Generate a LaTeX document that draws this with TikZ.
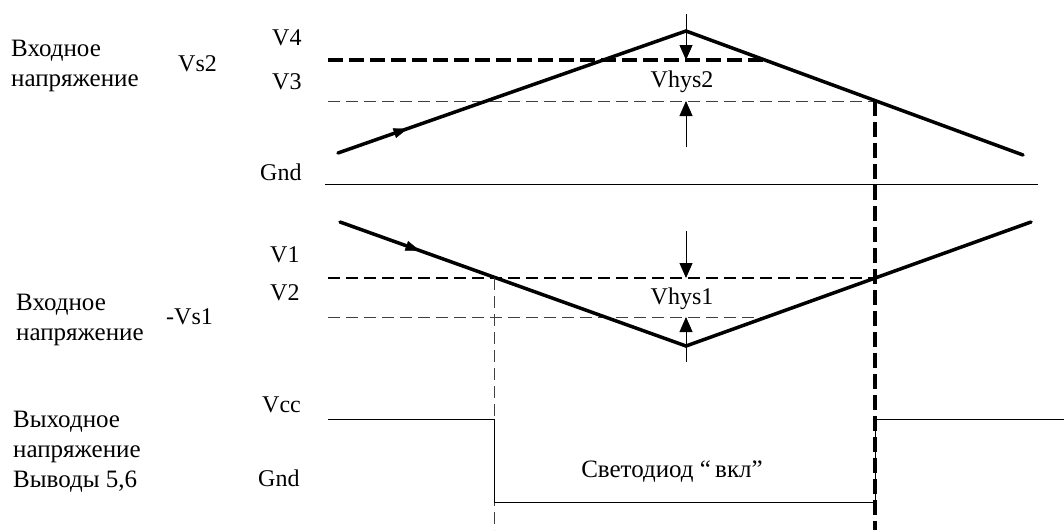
\documentclass[tikz,border=0pt]{standalone}
\usepackage{fontspec}
\setmainfont{Liberation Serif}
\usetikzlibrary{arrows.meta,decorations.markings}

\tikzset{
  wave/.style={line width=3.5pt, line cap=round},
  thickdash/.style={line width=3.5pt, dash pattern=on 15pt off 6pt},
  middash/.style={line width=1.8pt, dash pattern=on 12pt off 6pt},
  thindash/.style={line width=1pt, black!75, dash pattern=on 12pt off 6pt},
  rail/.style={line width=1pt},
  hysarrow/.style={line width=0.9pt, -{Triangle[length=15pt,width=13pt]}},
  flow/.style={postaction={decorate}, decoration={markings,
    mark=at position #1 with {\arrow{Triangle[length=14pt,width=10pt]}}}},
  lbl/.style={anchor=base west, inner sep=0pt},
  txt/.style={anchor=base west, inner sep=0pt, align=left,
    font=\fontsize{25}{30}\selectfont}
}

\begin{document}
\begin{tikzpicture}[x=1pt, y=-1pt, font=\fontsize{24}{30}\selectfont]
\useasboundingbox (0,0) rectangle (1064,530);

% upper input voltage
\coordinate (a0) at (338,153);
\coordinate (a1) at (686,31);
\coordinate (a2) at (1023,155);
\coordinate (v4l) at (328,60);
\coordinate (v4r) at (765,60);
\coordinate (v3l) at (328,101);
\coordinate (v3r) at (875,101);
\coordinate (g1l) at (325,184);
\coordinate (g1r) at (1038,184);
\draw[thickdash] (v4l) -- (v4r);
\draw[thindash] (v3l) -- (v3r);
\draw[rail] (g1l) -- (g1r);
\draw[wave] (a0) -- (a1) -- (a2);
\path[flow=0.2] (a0) -- (a1);

\coordinate (h2t) at (686,14);
\coordinate (h2b) at (686,147);
\draw[hysarrow] (h2t) -- (686,60);
\draw[hysarrow] (h2b) -- (686,101);
\node[anchor=base, inner sep=0pt] (hys2) at (682,87) {Vhys2};

% lower input voltage
\coordinate (b0) at (340,222);
\coordinate (b1) at (686,346);
\coordinate (b2) at (1031,222);
\coordinate (v1l) at (328,278);
\coordinate (v1r) at (875,278);
\coordinate (v2l) at (328,317);
\coordinate (v2r) at (765,317);
\draw[middash] (v1l) -- (v1r);
\draw[thindash] (v2l) -- (v2r);
\draw[wave] (b0) -- (b1) -- (b2);
\path[flow=0.23] (b0) -- (b1);

\coordinate (h1t) at (686,231);
\coordinate (h1b) at (686,362);
\draw[hysarrow] (h1t) -- (686,278);
\draw[hysarrow] (h1b) -- (686,317);
\node[anchor=base, inner sep=0pt] (hys1) at (682,304) {Vhys1};

% switching lines
\coordinate (on) at (494,278);
\coordinate (onb) at (494,530);
\coordinate (offb) at (875,530);
\draw[thindash] (on) -- (onb);

% output
\coordinate (o0) at (328,419);
\coordinate (o1) at (494,419);
\coordinate (o2) at (494,502);
\coordinate (o3) at (875,502);
\coordinate (o4) at (875,419);
\coordinate (o5) at (1064,419);
\draw[rail] (o0) -- (o1) -- (o2) -- (o3) -- (o4) -- (o5);
\draw[thickdash] (v3r) -- (offb);
\node[anchor=base, inner sep=0pt, font=\fontsize{25}{30}\selectfont] (led) at (672,477) {Светодиод “\,вкл”};

% labels (base = last line)
\node[txt] (in2) at (11,86) {Входное\\напряжение};
\node[lbl] (vs2) at (178,71) {Vs2};
\node[lbl] (lv4) at (272,45) {V4};
\node[lbl] (lv3) at (272,89) {V3};
\node[lbl] (gnd1) at (260,180) {Gnd};

\node[txt] (in1) at (16,340) {Входное\\напряжение};
\node[lbl] (vs1) at (166,324) {-Vs1};
\node[lbl] (lv1) at (270,262) {V1};
\node[lbl] (lv2) at (270,300) {V2};

\node[txt] (out) at (13,487) {Выходное\\напряжение\\Выводы 5,6};
\node[lbl] (vcc) at (262,412) {Vcc};
\node[lbl] (gnd2) at (258,486) {Gnd};
\end{tikzpicture}
\end{document}
